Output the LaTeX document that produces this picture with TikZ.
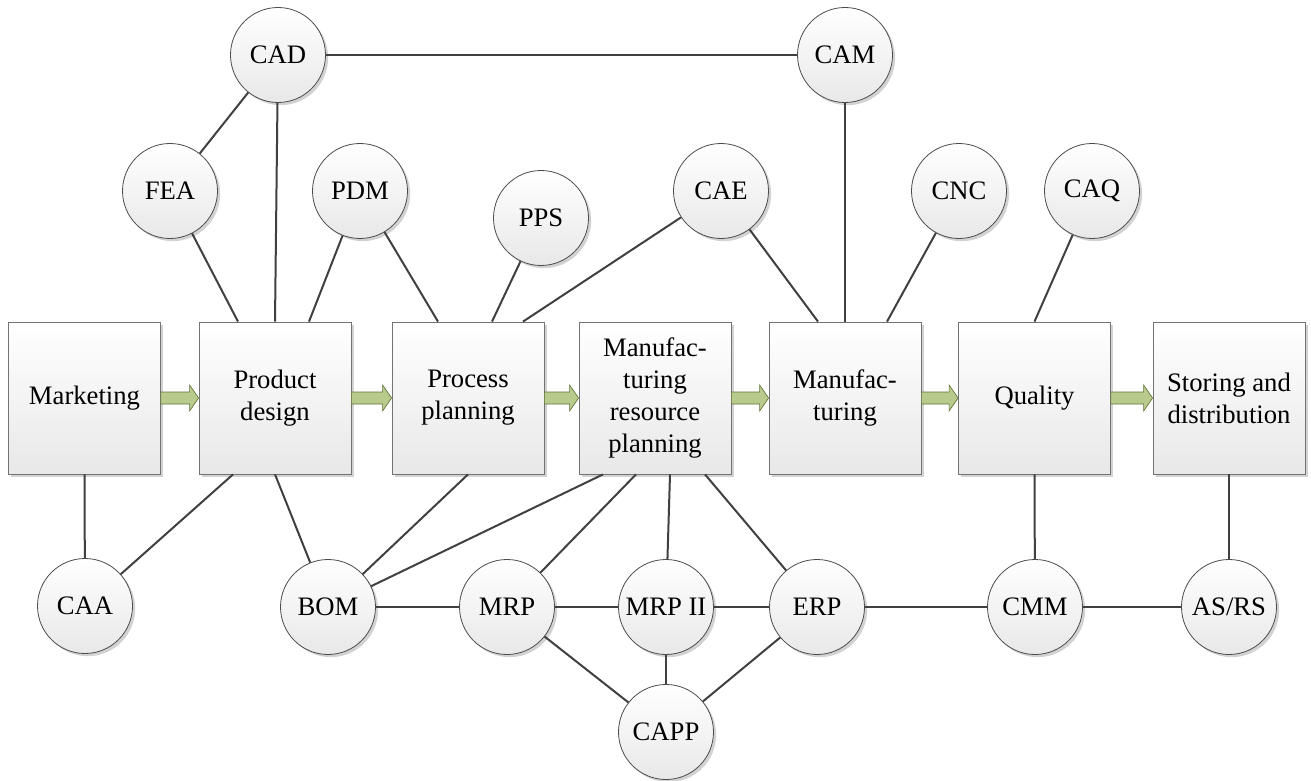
\documentclass[tikz,border=0pt]{standalone}
\usepackage{fontspec}
\setmainfont{LiberationSerif}[Extension=.ttf, UprightFont=*-Regular, BoldFont=*-Bold]
\usetikzlibrary{calc,shadows}
\definecolor{linkgray}{RGB}{64,64,64}
\definecolor{flowfill}{RGB}{185,203,140}
\definecolor{flowdraw}{RGB}{95,115,55}
\begin{document}
\begin{tikzpicture}[
		x=0.75pt, y=-0.75pt,
		every node/.style={font=\fontsize{20}{24}\selectfont, align=center},
		stage/.style={draw=black!55, line width=0.6pt, top color=white, bottom color=black!9,
			minimum size=114pt, inner sep=0pt,
			drop shadow={shadow xshift=2pt, shadow yshift=-2pt, fill=black!25, opacity=0.7}},
		tool/.style={circle, draw=black!70, line width=0.6pt, top color=white, bottom color=black!9,
			minimum size=71.25pt, inner sep=0pt,
			drop shadow={shadow xshift=2pt, shadow yshift=-2pt, fill=black!25, opacity=0.7}},
		link/.style={draw=linkgray, line width=1.5pt},
		flow/.style={draw=flowdraw, fill=flowfill, line width=0.5pt}
	]
		\useasboundingbox (0,0) rectangle (1311,781);
		% process chain
		\node[stage] (mk) at (84.5,398) {Marketing};
		\node[stage] (pd) at (275,398) {Product\\design};
		\node[stage] (pp) at (468,398) {Process\\planning};
		\node[stage] (mrpl) at (655,398) {Manufac-\\turing\\resource\\planning};
		\node[stage] (mf) at (845,398) {Manufac-\\turing};
		\node[stage] (qu) at (1034.5,398) {Quality};
		\node[stage] (sd) at (1229,398) {Storing and\\distribution};
		% computer aided tools
		\node[tool] (cad) at (278,55) {CAD};
		\node[tool] (cam) at (845,55) {CAM};
		\node[tool] (fea) at (170,191) {FEA};
		\node[tool] (pdm) at (360,191) {PDM};
		\node[tool] (pps) at (541,218) {PPS};
		\node[tool] (cae) at (721,191) {CAE};
		\node[tool] (cnc) at (959,191) {CNC};
		\node[tool] (caq) at (1092,191) {CAQ};
		\node[tool] (caa) at (85,606) {CAA};
		\node[tool] (bom) at (328,607) {BOM};
		\node[tool] (mrp) at (507,607) {MRP};
		\node[tool] (mrpii) at (666,607) {MRP II};
		\node[tool] (erp) at (817,607) {ERP};
		\node[tool] (capp) at (666,732) {CAPP};
		\node[tool] (cmm) at (1035,607) {CMM};
		\node[tool] (asrs) at (1229,607) {AS/RS};
		% block arrows
		\foreach \a/\b in {mk/pd, pd/pp, pp/mrpl, mrpl/mf, mf/qu, qu/sd}
			\draw[flow] ($(\a.east)+(0,-6)$) -- ($(\b.west)+(-9,-6)$) -- ($(\b.west)+(-9,-13)$)
				-- (\b.west) -- ($(\b.west)+(-9,13)$) -- ($(\b.west)+(-9,6)$) -- ($(\a.east)+(0,6)$) -- cycle;
		% upper links
		\draw[link] (cad) -- (cam);
		\draw[link] (cad) -- (fea);
		\draw[link] (cad) -- (pd.north);
		\draw[link] (fea) -- ($(pd.north)+(-37,0)$);
		\draw[link] (pdm) -- ($(pd.north)+(34,0)$);
		\draw[link] (pdm) -- ($(pp.north)+(-30,0)$);
		\draw[link] (pps) -- ($(pp.north)+(24,0)$);
		\draw[link] (cae) -- ($(pp.north)+(55,0)$);
		\draw[link] (cae) -- ($(mf.north)+(-27,0)$);
		\draw[link] (cam) -- (mf.north);
		\draw[link] (cnc) -- ($(mf.north)+(42,0)$);
		\draw[link] (caq) -- (qu.north);
		% lower links
		\draw[link] (mk.south) -- (caa);
		\draw[link] ($(pd.south)+(-42,0)$) -- (caa);
		\draw[link] (pd.south) -- (bom);
		\draw[link] (pp.south) -- (bom);
		\draw[link] ($(mrpl.south)+(-52,0)$) -- (bom);
		\draw[link] ($(mrpl.south)+(-19,0)$) -- (mrp);
		\draw[link] ($(mrpl.south)+(15,0)$) -- (mrpii);
		\draw[link] ($(mrpl.south)+(50,0)$) -- (erp);
		\draw[link] (qu.south) -- (cmm);
		\draw[link] (sd.south) -- (asrs);
		\draw[link] (bom) -- (mrp);
		\draw[link] (mrp) -- (mrpii);
		\draw[link] (mrpii) -- (erp);
		\draw[link] (erp) -- (cmm);
		\draw[link] (cmm) -- (asrs);
		\draw[link] (mrp) -- (capp);
		\draw[link] (mrpii) -- (capp);
		\draw[link] (erp) -- (capp);
	\end{tikzpicture}
\end{document}
